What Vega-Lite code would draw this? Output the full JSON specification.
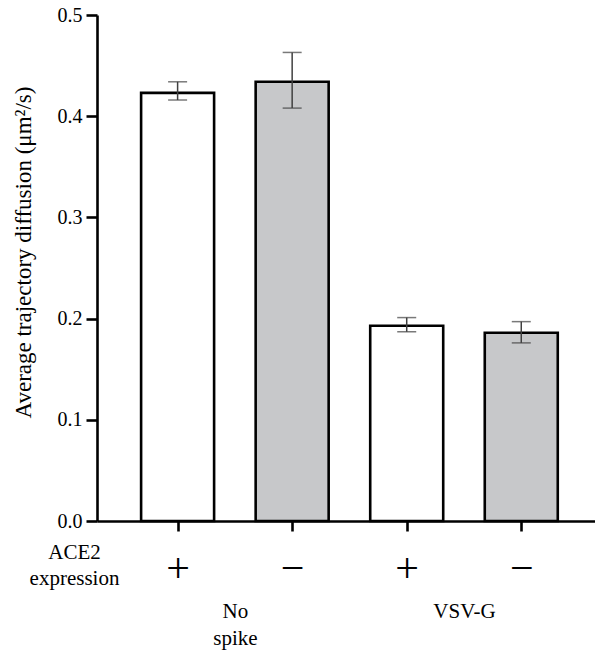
{
  "$schema": "https://vega.github.io/schema/vega-lite/v6.json",
  "autosize": "none",
  "width": 498,
  "height": 506,
  "padding": {"left": 97, "top": 15, "right": 0, "bottom": 133},
  "config": {
    "view": {"stroke": null},
    "font": "Times New Roman, Liberation Serif, serif",
    "axis": {"grid": false, "domainColor": "#000000", "tickColor": "#000000", "labelColor": "#000000", "titleColor": "#000000", "labelFont": "Times New Roman, Liberation Serif, serif", "titleFont": "Times New Roman, Liberation Serif, serif", "titleFontWeight": "normal"}
  },
  "data": {"values": [
    {"order": 1, "spike": "No spike", "ace2": "+", "mean": 0.423, "lo": 0.416, "hi": 0.434},
    {"order": 2, "spike": "No spike", "ace2": "−", "mean": 0.434, "lo": 0.408, "hi": 0.463},
    {"order": 3, "spike": "VSV-G", "ace2": "+", "mean": 0.193, "lo": 0.187, "hi": 0.201},
    {"order": 4, "spike": "VSV-G", "ace2": "−", "mean": 0.186, "lo": 0.176, "hi": 0.197}
  ]},
  "layer": [
    {
      "mark": {"type": "bar", "width": 73, "stroke": "black", "strokeWidth": 2.6},
      "encoding": {
        "x": {"field": "order", "type": "quantitative",
          "scale": {"domain": [0.34, 4.6], "nice": false, "zero": false},
          "axis": {
            "values": [1, 1.5, 2, 3, 3.5, 4],
            "domainWidth": 2.6, "tickWidth": 2.6, "tickSize": 10,
            "tickOpacity": {"condition": {"test": "datum.value % 1 != 0", "value": 0}, "value": 1},
            "labelExpr": "datum.value == 1 || datum.value == 3 ? '+' : (datum.value == 2 || datum.value == 4 ? '−' : (datum.value == 1.5 ? ['No', 'spike'] : 'VSV-G'))",
            "labelFontSize": {"condition": {"test": "datum.value % 1 != 0", "value": 21}, "value": 42},
            "labelBaseline": {"condition": {"test": "datum.value % 1 != 0", "value": "top"}, "value": "middle"},
            "labelPadding": {"condition": {"test": "datum.value % 1 != 0", "value": 69}, "value": 37},
            "labelLineHeight": 27,
            "labelOverlap": false, "labelFlush": false, "labelBound": false, "labelAngle": 0,
            "title": ["ACE2", "expression"],
            "titleFontSize": 21, "titleLineHeight": 26,
            "titleX": -23, "titleY": 20, "titleAlign": "center", "titleBaseline": "top", "titleAngle": 0
          }
        },
        "y": {"field": "mean", "type": "quantitative",
          "scale": {"domain": [0, 0.5], "nice": false},
          "axis": {
            "values": [0, 0.1, 0.2, 0.3, 0.4, 0.5], "format": ".1f",
            "domainWidth": 2.6, "tickWidth": 2.6, "tickSize": 11,
            "labelFontSize": 20, "labelPadding": 4,
            "title": "Average trajectory diffusion (μm²/s)",
            "titleFontSize": 23,
            "titleX": -67, "titleY": 237, "titleAngle": -90, "titleAlign": "center", "titleBaseline": "alphabetic"
          }
        },
        "fill": {"field": "ace2", "type": "nominal", "scale": {"domain": ["+", "−"], "range": ["white", "#c7c8ca"]}, "legend": null}
      }
    },
    {
      "mark": {"type": "rule", "color": "#404040", "strokeWidth": 1.5},
      "encoding": {
        "x": {"field": "order", "type": "quantitative"},
        "y": {"field": "lo", "type": "quantitative"},
        "y2": {"field": "hi"}
      }
    },
    {
      "mark": {"type": "tick", "orient": "horizontal", "color": "#404040", "thickness": 1.5, "size": 19},
      "encoding": {
        "x": {"field": "order", "type": "quantitative"},
        "y": {"field": "lo", "type": "quantitative"}
      }
    },
    {
      "mark": {"type": "tick", "orient": "horizontal", "color": "#404040", "thickness": 1.5, "size": 19},
      "encoding": {
        "x": {"field": "order", "type": "quantitative"},
        "y": {"field": "hi", "type": "quantitative"}
      }
    }
  ]
}
